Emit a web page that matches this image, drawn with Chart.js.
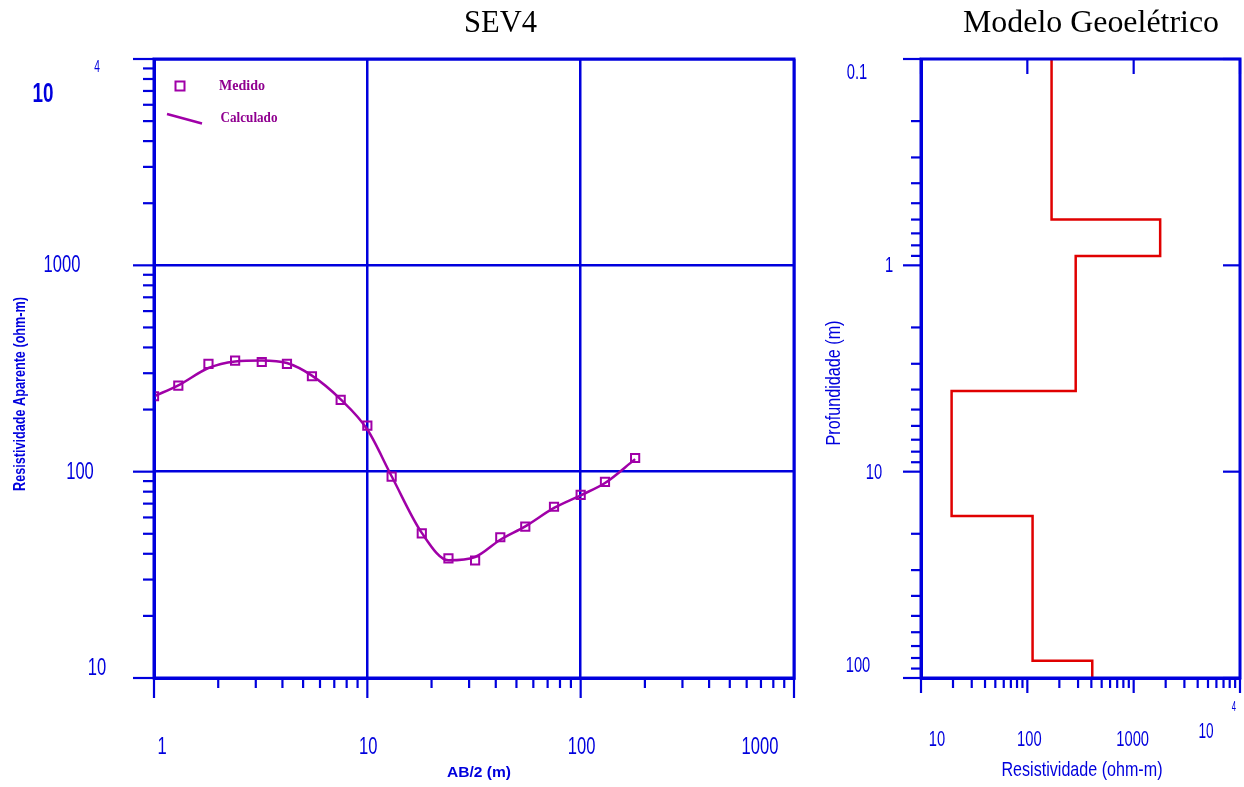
<!DOCTYPE html>
<html>
<head>
<meta charset="utf-8">
<script src="https://cdn.jsdelivr.net/npm/chart.js@4.4.1/dist/chart.umd.min.js"></script>
<style>
  body { margin: 0; background: #fff; }
  #wrap { position: relative; width: 1244px; height: 787px; }
  #wrap canvas { position: absolute; top: 0; }
</style>
</head>
<body>
<div id="wrap">
  <canvas id="sevChart" width="800" height="787" style="left:0"></canvas>
  <canvas id="modelChart" width="444" height="787" style="left:800px"></canvas>
</div>
<script>
// SEV4 - AB/2 spacing (m) and apparent resistivity (ohm-m)
var ab2 = [1, 1.3, 1.8, 2.4, 3.2, 4.2, 5.5, 7.5, 10, 13, 18, 24, 32, 42, 55, 75, 100, 130, 180];
var rhoMedido = [232, 261, 333, 345, 340, 333, 290, 223, 167, 94.6, 50.2, 38.0, 37.1, 48.1, 54.1, 67.6, 77.1, 89.2, 116.5];
var rhoCalculado = [232, 262, 318, 342, 346, 336, 292, 224, 160, 95, 50.5, 37.2, 38.6, 46.8, 54.3, 66.7, 76.8, 88.1, 115];
var sevXTicks = [1, 10, 100, 1000];
var sevYTicks = [10, 100, 1000, 10000];

// Modelo geoeletrico - layer resistivity (ohm-m) and layer top depth (m)
var camadaRho = [169, 1775, 285, 19.4, 112, 408];
var camadaTopo = [0.1, 0.6, 0.9, 4.07, 16.4, 82.4];
var profMax = 100;
var modelXTicks = [10, 100, 1000, 10000];
var modelYTicks = [0.1, 1, 10, 100];

var BLUE = '#0000dd';
var PURPLE = '#a000a8';
var RED = '#e00000';
var SANS = '"Liberation Sans", Arial, sans-serif';
var SERIF = '"Liberation Serif", "Times New Roman", serif';

// draw text, optionally squeezed horizontally (the original uses a narrow font)
function drawText(ctx, text, x, y, o) {
  ctx.save();
  ctx.font = o.font;
  ctx.fillStyle = o.color || BLUE;
  ctx.textAlign = 'center';
  ctx.textBaseline = o.baseline || 'middle';
  ctx.translate(x, y);
  if (o.rotate) ctx.rotate(o.rotate);
  var sx = o.sx || 1;
  if (o.width) sx = o.width / ctx.measureText(text).width;
  ctx.scale(sx, 1);
  ctx.fillText(text, 0, 0);
  ctx.restore();
}

// 1..9 x 10^k values inside the axis range
function logSteps(min, max) {
  var out = [];
  for (var e = Math.floor(Math.log10(min)); e <= Math.ceil(Math.log10(max)); e++) {
    for (var k = 1; k <= 9; k++) {
      var v = k * Math.pow(10, e);
      if (v >= min * 0.999 && v <= max * 1.001) out.push(v);
    }
  }
  return out;
}

function isDecade(v) {
  var l = Math.log10(v);
  return Math.abs(l - Math.round(l)) < 1e-9;
}

// frame, tick marks, tick labels, titles and legend
var frameTicks = {
  id: 'frameTicks',
  afterDraw: function (chart, args, opts) {
    var ctx = chart.ctx, a = chart.chartArea;
    ctx.save();
    ctx.strokeStyle = BLUE;
    ctx.lineWidth = 3;
    ctx.strokeRect(a.left, a.top, a.right - a.left, a.bottom - a.top);
    ctx.lineWidth = 2.2;
    opts.marks.forEach(function (t) {
      var sc = chart.scales[t.scale];
      logSteps(sc.min, sc.max).forEach(function (v) {
        var len = isDecade(v) ? t.major : t.minor;
        if (!len) return;
        var p = sc.getPixelForValue(v);
        ctx.beginPath();
        if (t.side === 'bottom') { ctx.moveTo(p, a.bottom); ctx.lineTo(p, a.bottom + len); }
        if (t.side === 'top') { ctx.moveTo(p, a.top); ctx.lineTo(p, a.top + len); }
        if (t.side === 'left') { ctx.moveTo(a.left - len, p); ctx.lineTo(a.left, p); }
        if (t.side === 'right') { ctx.moveTo(a.right - len, p); ctx.lineTo(a.right, p); }
        ctx.stroke();
      });
    });
    ctx.restore();

    // tick labels
    opts.labels.forEach(function (l) {
      var sc = chart.scales[l.scale];
      l.values.forEach(function (v, i) {
        var off = l.offsets[i];
        var p = sc.getPixelForValue(v);
        var x = l.scale === 'x' ? p + off[0] : a.left + off[0];
        var y = l.scale === 'x' ? a.bottom + off[1] : p + off[1];
        var exp = Math.round(Math.log10(v));
        if (exp >= 4) {
          drawText(ctx, '10', x, y, { font: l.bigFont, sx: l.bigSx });
          drawText(ctx, String(exp), x + off[2], y + off[3], { font: l.expFont, sx: l.expSx });
        } else {
          drawText(ctx, String(v), x, y, { font: l.font, sx: l.sx });
        }
      });
    });

    opts.texts.forEach(function (t) {
      drawText(ctx, t.text, t.x, t.y, t);
    });

    if (opts.legend) {
      ctx.save();
      ctx.strokeStyle = PURPLE;
      ctx.lineWidth = 2;
      ctx.strokeRect(175.5, 81.5, 9, 9);
      ctx.lineWidth = 2.5;
      ctx.beginPath();
      ctx.moveTo(167, 114);
      ctx.lineTo(202, 123.5);
      ctx.stroke();
      ctx.restore();
      drawText(ctx, chart.data.datasets[1].label, 242, 86, { font: 'bold 14px ' + SERIF, color: '#900090', width: 46 });
      drawText(ctx, chart.data.datasets[0].label, 249, 118, { font: 'bold 14px ' + SERIF, color: '#900090', width: 57 });
    }
  }
};

function logAxis(min, max, tickList, fitKey, fitVal, extra) {
  var ax = {
    type: 'logarithmic',
    min: min,
    max: max,
    ticks: { display: false },
    afterBuildTicks: function (s) { s.ticks = tickList.map(function (v) { return { value: v }; }); },
    afterFit: function (s) { s[fitKey] = fitVal; },
    grid: { color: BLUE, lineWidth: 2.5, drawTicks: false },
    border: { color: BLUE, width: 3 }
  };
  return Object.assign(ax, extra || {});
}

new Chart(document.getElementById('sevChart'), {
  type: 'scatter',
  data: {
    datasets: [
      {
        label: 'Calculado',
        data: ab2.map(function (x, i) { return { x: x, y: rhoCalculado[i] }; }),
        showLine: true,
        borderColor: PURPLE,
        borderWidth: 2.5,
        pointRadius: 0,
        cubicInterpolationMode: 'monotone'
      },
      {
        label: 'Medido',
        data: ab2.map(function (x, i) { return { x: x, y: rhoMedido[i] }; }),
        showLine: false,
        pointStyle: 'rect',
        pointRadius: 5.8,
        pointBorderWidth: 2,
        borderColor: PURPLE,
        backgroundColor: 'rgba(0,0,0,0)'
      }
    ]
  },
  options: {
    responsive: false,
    animation: false,
    devicePixelRatio: 1,
    layout: { autoPadding: false, padding: { left: 0, right: 6, top: 59, bottom: 109 } },
    plugins: {
      legend: { display: false },
      tooltip: { enabled: false },
      frameTicks: {
        marks: [
          { scale: 'x', side: 'bottom', minor: 10, major: 20 },
          { scale: 'y', side: 'left', minor: 11, major: 21 }
        ],
        labels: [
          { scale: 'x', values: sevXTicks, offsets: [[8, 69], [1, 69], [1, 69], [-34, 69]],
            font: '24px ' + SANS, sx: 0.69 },
          { scale: 'y', values: sevYTicks, offsets: [[-57, -10], [-74, 1], [-92, 0], [-111, 36, 54, -28]],
            font: '24px ' + SANS, sx: 0.69, bigFont: 'bold 27px ' + SANS, bigSx: 0.7,
            expFont: '17px ' + SANS, expSx: 0.6 }
        ],
        texts: [
          { text: 'SEV4', x: 500.5, y: 32, font: '32px ' + SERIF, color: '#000', width: 73, baseline: 'alphabetic' },
          { text: 'Resistividade Aparente (ohm-m)', x: 21, y: 394, font: 'bold 16px ' + SANS, width: 194, rotate: -Math.PI / 2 },
          { text: 'AB/2 (m)', x: 479, y: 773, font: 'bold 15px ' + SANS, width: 64 }
        ],
        legend: true
      }
    },
    scales: {
      x: logAxis(1, 1000, sevXTicks, 'height', 0, { position: 'bottom' }),
      y: logAxis(10, 10000, sevYTicks, 'width', 154, { position: 'left' })
    }
  },
  plugins: [frameTicks]
});

// step profile built from the layer list
var degraus = camadaRho.map(function (r, i) { return { x: r, y: camadaTopo[i] }; });
degraus.push({ x: camadaRho[camadaRho.length - 1], y: profMax });

new Chart(document.getElementById('modelChart'), {
  type: 'scatter',
  data: {
    datasets: [{
      label: 'Modelo',
      data: degraus,
      showLine: true,
      stepped: 'after',
      borderColor: RED,
      borderWidth: 2.5,
      pointRadius: 0
    }]
  },
  options: {
    responsive: false,
    animation: false,
    devicePixelRatio: 1,
    layout: { autoPadding: false, padding: { left: 0, right: 4, top: 59, bottom: 109 } },
    plugins: {
      legend: { display: false },
      tooltip: { enabled: false },
      frameTicks: {
        marks: [
          { scale: 'x', side: 'bottom', minor: 10, major: 15 },
          { scale: 'x', side: 'top', minor: 0, major: 15 },
          { scale: 'y', side: 'left', minor: 10, major: 18 },
          { scale: 'y', side: 'right', minor: 0, major: 17 }
        ],
        labels: [
          { scale: 'x', values: modelXTicks, offsets: [[16, 62], [2, 62], [-1, 62], [-34, 54, 28, -25]],
            font: '22px ' + SANS, sx: 0.67, bigFont: '22px ' + SANS, bigSx: 0.62,
            expFont: '14px ' + SANS, expSx: 0.55 },
          { scale: 'y', values: modelYTicks, offsets: [[-64, 14], [-32, 1], [-47, 1], [-63, -12]],
            font: '22px ' + SANS, sx: 0.67 }
        ],
        texts: [
          { text: 'Modelo Geoelétrico', x: 291, y: 32, font: '32px ' + SERIF, color: '#000', width: 256, baseline: 'alphabetic' },
          { text: 'Profundidade (m)', x: 34, y: 383, font: '20px ' + SANS, width: 125, rotate: -Math.PI / 2 },
          { text: 'Resistividade (ohm-m)', x: 282, y: 770, font: '21px ' + SANS, width: 161 }
        ]
      }
    },
    scales: {
      x: logAxis(10, 10000, modelXTicks, 'height', 0, { position: 'bottom', grid: { display: false } }),
      y: logAxis(0.1, 100, modelYTicks, 'width', 121, { position: 'left', reverse: true, grid: { display: false } })
    }
  },
  plugins: [frameTicks]
});
</script>
</body>
</html>
